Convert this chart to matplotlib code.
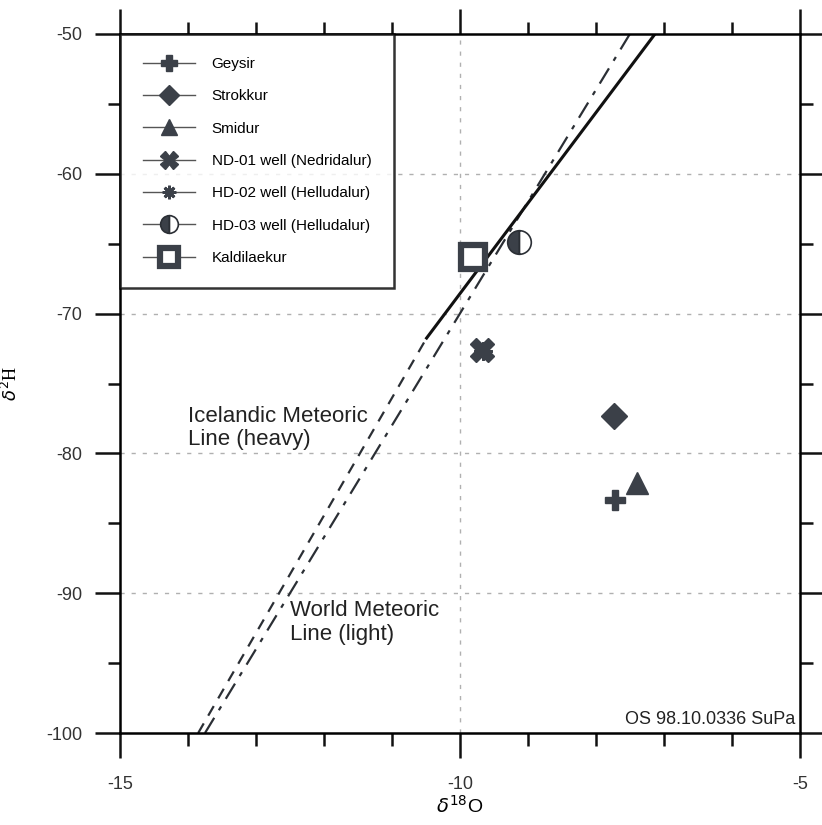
import matplotlib.pyplot as plt
from matplotlib.ticker import MultipleLocator

plt.rcParams['font.family'] = ['Liberation Sans', 'DejaVu Sans']

# sample points (d18O, d2H)
site_names = ['Geysir', 'Strokkur', 'Smidur', 'ND-01 well (Nedridalur)',
              'HD-02 well (Helludalur)', 'HD-03 well (Helludalur)', 'Kaldilaekur']
d18o = [-7.72, -7.74, -7.40, -9.68, -9.66, -9.13, -9.81]
d2h = [-83.3, -77.3, -82.1, -72.6, -72.7, -64.9, -65.95]

# meteoric lines
world_x = [-13.75, -7.5]
world_slope, world_icpt = 8.0, 10.0
iceland_heavy_x = [-10.49, -7.13]
iceland_heavy_y = [-71.75, -50.0]
iceland_light_x = [-13.85, -10.49]
iceland_light_y = [-100.0, -71.75]

dark = '#2b2f35'
fill = '#3b4048'

fig = plt.figure(figsize=(8.22, 8.25), dpi=100)
ax = fig.add_axes([0.146, 0.1115, 0.827, 0.8473])

ax.set_xlim(-15, -5)
ax.set_ylim(-100, -50)

# grid
for gx in [-10]:
    ax.axvline(gx, color='#b0b0b0', lw=1, ls=(0, (3, 5)), zorder=0)
for gy in [-60, -70, -80, -90]:
    ax.axhline(gy, color='#b0b0b0', lw=1, ls=(0, (3, 5)), zorder=0)

ax.plot(world_x, [world_slope * v + world_icpt for v in world_x],
        color=dark, lw=1.6, ls=(0, (8, 4, 2, 4)), zorder=2)
ax.plot(iceland_heavy_x, iceland_heavy_y, color='#111111', lw=2.2, zorder=2)
ax.plot(iceland_light_x, iceland_light_y, color=dark, lw=1.6, ls=(0, (5, 4)), zorder=2)

styles = [
    dict(marker='P', ms=15, mfc=fill, mec=fill),
    dict(marker='D', ms=13, mfc=fill, mec=fill),
    dict(marker='^', ms=16, mfc=fill, mec=fill),
    dict(marker='X', ms=17, mfc=fill, mec=fill),
    dict(marker=(8, 2, 0), ms=13, mfc=fill, mec=fill, mew=2),
    dict(marker='o', ms=17, mfc=fill, mec=dark, mew=1.2,
         fillstyle='left', markerfacecoloralt='white'),
    dict(marker='s', ms=17, mfc='white', mec=fill, mew=4.5),
]
for name, x, y, st in zip(site_names, d18o, d2h, styles):
    ax.plot([x], [y], ls='-', color='#555555', lw=1, label=name, zorder=3, **st)

leg = ax.legend(loc='upper left', bbox_to_anchor=(0, 1), borderaxespad=0,
                fancybox=False, edgecolor='black', fontsize=11,
                handlelength=3.4, handletextpad=1.1, labelspacing=1.2,
                borderpad=1.5, markerscale=0.75)
leg.get_frame().set_linewidth(1.8)

ax.text(-14.0, -78.2, 'Icelandic Meteoric\nLine (heavy)', fontsize=16,
        color='#222222', va='center', ha='left', linespacing=1.15)
ax.text(-12.5, -92.1, 'World Meteoric\nLine (light)', fontsize=16,
        color='#222222', va='center', ha='left', linespacing=1.15)
ax.text(-5.07, -99.0, 'OS 98.10.0336 SuPa', fontsize=13, color='#222222',
        ha='right', va='center')

# axes frame and ticks on all four sides
for sp in ax.spines.values():
    sp.set_linewidth(1.8)
ax.xaxis.set_major_locator(MultipleLocator(5))
ax.xaxis.set_minor_locator(MultipleLocator(1))
ax.yaxis.set_major_locator(MultipleLocator(10))
ax.yaxis.set_minor_locator(MultipleLocator(5))
ax.tick_params(which='both', direction='out', top=True, right=True, width=1.8,
               color='#111111', labelcolor='#333333')
ax.tick_params(which='major', length=18, labelsize=13, pad=9)
ax.tick_params(which='minor', length=9)
ax.tick_params(axis='x', which='major', pad=13)
ax.set_xticks([-15, -10, -5])
ax.set_xticklabels(['-15', '-10', '-5'])
ax.set_yticks([-100, -90, -80, -70, -60, -50])
ax.set_yticklabels(['-100', '-90', '-80', '-70', '-60', '-50'])

ax.set_xlabel(r'$\delta^{18}$O', fontsize=14, labelpad=1)
ax.set_ylabel(r'$\delta^{2}$H', fontsize=13, family='Liberation Serif', labelpad=18)

fig.savefig('out.png', dpi=100)
